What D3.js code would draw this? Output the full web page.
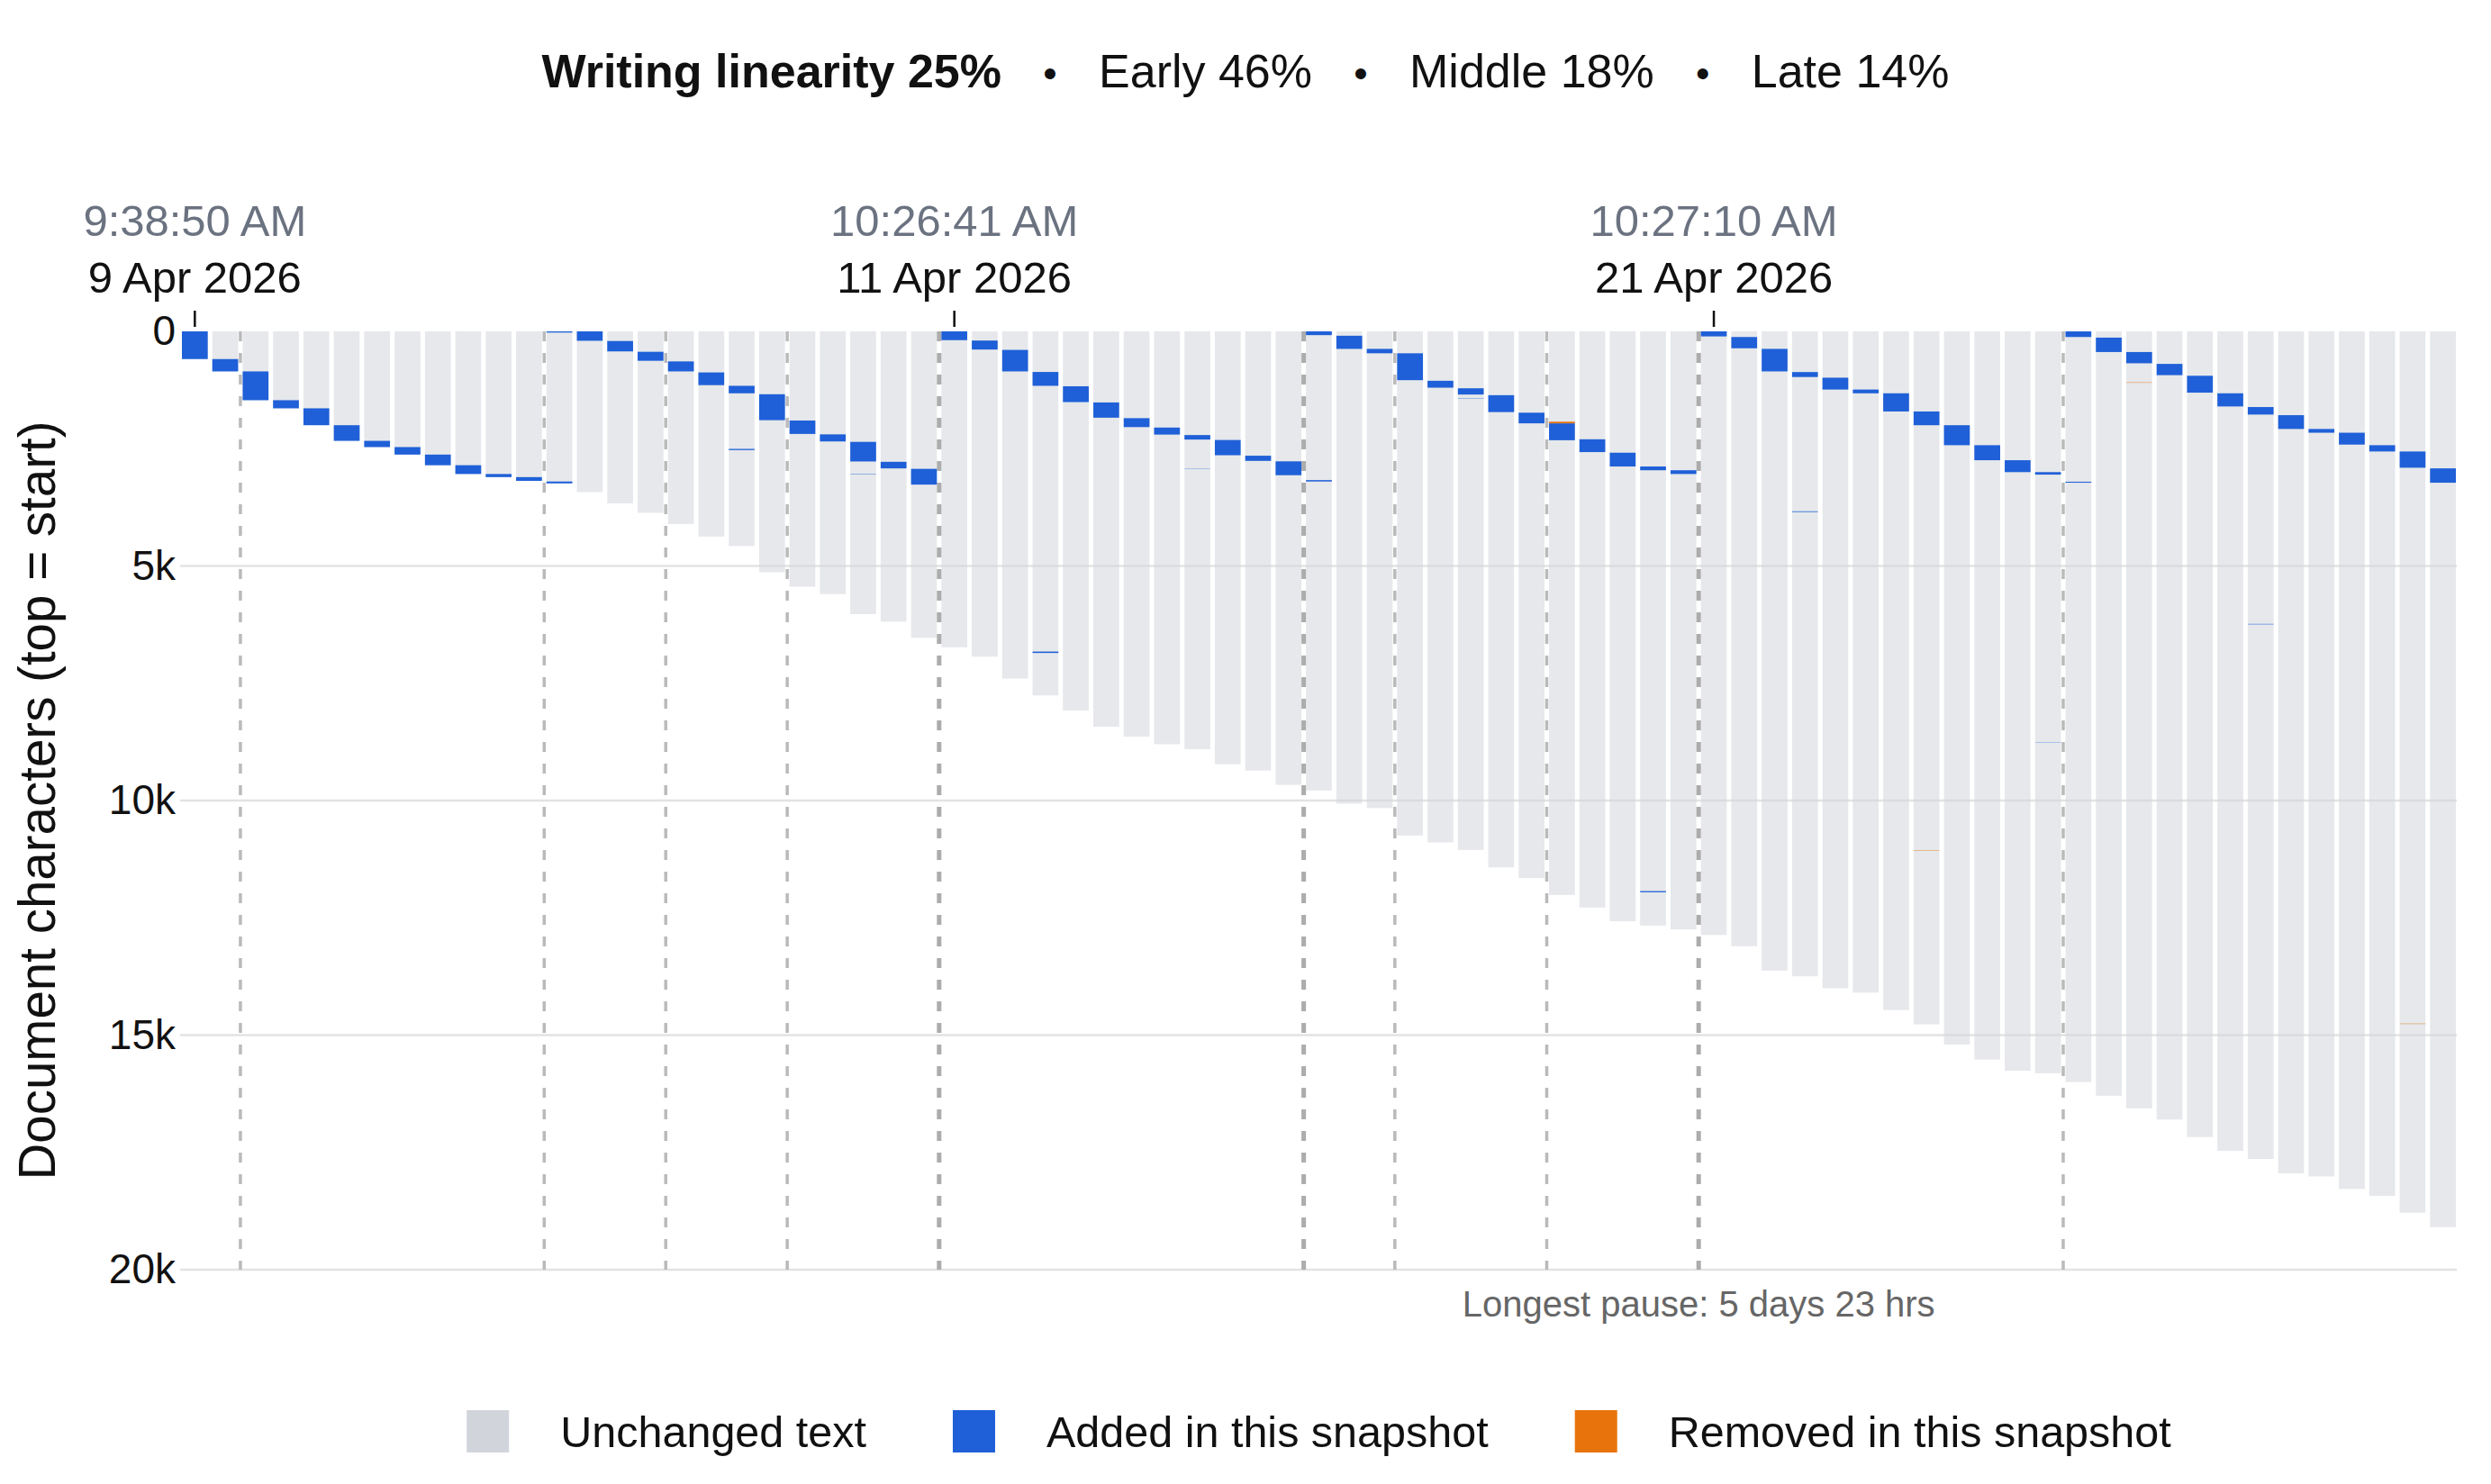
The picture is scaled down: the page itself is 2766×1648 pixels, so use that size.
<!DOCTYPE html>
<html>
<head>
<meta charset="utf-8">
<script src="https://cdn.jsdelivr.net/npm/d3@7"></script>
<style>
  body { margin: 0; background: #fff; }
  svg text { font-family: "Liberation Sans", Arial, Helvetica, sans-serif; }
</style>
</head>
<body>
<div id="linearity-chart"></div>
<script>
/* document length (characters) at each snapshot */
var docTotals = [
  590, 853, 1467, 1640, 2000, 2333, 2466, 2626, 2853, 3040, 3106, 3186, 3240,
  3426, 3666, 3866, 4106, 4373, 4573, 5133, 5440, 5600, 6026, 6186, 6533,
  6733, 6933, 7400, 7760, 8080, 8426, 8640, 8800, 8906, 9226, 9360, 9666,
  9786, 10066, 10160, 10746, 10893, 11053, 11426, 11653, 12013, 12280, 12573,
  12666, 12746, 12866, 13106, 13626, 13746, 14000, 14093, 14466, 14773, 15200,
  15520, 15760, 15813, 16000, 16293, 16560, 16800, 17173, 17466, 17640, 17946,
  18013, 18280, 18426, 18786, 19093
]

/* [snapshot, from char, to char] */
var addedSpans = [
  [0, 0, 590], [1, 590, 853], [2, 853, 1467], [3, 1467, 1640], [4, 1640, 2000],
  [5, 2000, 2333], [6, 2333, 2466], [7, 2466, 2626], [8, 2626, 2853],
  [9, 2853, 3040], [10, 3040, 3106], [11, 3106, 3186], [12, 0, 25], [12, 3200, 3240],
  [13, 0, 200], [14, 205, 427], [15, 435, 627], [16, 640, 853], [17, 875, 1146],
  [18, 1160, 1320], [18, 2505, 2530], [19, 1340, 1893], [20, 1900, 2186],
  [21, 2195, 2346], [22, 2355, 2773], [22, 3035, 3043], [23, 2780, 2920],
  [24, 2930, 3266], [25, 0, 187], [26, 195, 387], [27, 395, 853], [28, 865, 1160],
  [28, 6825, 6855], [29, 1170, 1507], [30, 1515, 1840], [31, 1850, 2040],
  [32, 2050, 2200], [33, 2210, 2306], [33, 2930, 2935], [34, 2315, 2640],
  [35, 2650, 2760], [36, 2770, 3066], [37, 0, 80], [37, 3170, 3200],
  [38, 93, 373], [39, 373, 467], [40, 467, 1040], [41, 1053, 1200],
  [42, 1213, 1346], [42, 1420, 1427], [43, 1360, 1720], [44, 1733, 1960],
  [45, 1960, 2320], [46, 2300, 2573], [47, 2586, 2880], [48, 2880, 2960],
  [48, 11930, 11955], [49, 2960, 3040], [50, 0, 107], [51, 120, 360],
  [52, 373, 853], [53, 867, 973], [53, 3835, 3850], [54, 987, 1240],
  [55, 1240, 1320], [56, 1320, 1707], [57, 1707, 2000], [58, 2000, 2426],
  [59, 2426, 2746], [60, 2746, 3000], [61, 3000, 3053], [61, 8755, 8759],
  [62, 0, 120], [62, 3205, 3225], [63, 133, 440], [64, 440, 680], [65, 693, 933],
  [66, 946, 1306], [67, 1320, 1600], [68, 1613, 1773], [68, 6235, 6245],
  [69, 1786, 2080], [70, 2080, 2160], [71, 2160, 2413], [72, 2426, 2560],
  [73, 2560, 2906], [74, 2920, 3226]
]

var removedSpans = [
  [45, 1925, 1960], [57, 11060, 11068], [64, 1088, 1096], [73, 14755, 14763]
]

/* first snapshot of each new writing session */
var sessionStarts = [2, 12, 16, 20, 25, 37, 40, 45, 50, 62]
var dayBreaks = [25, 37, 50]

var tickBars = [0, 25, 50]
var tickTimes = ["9:38:50 AM", "10:26:41 AM", "10:27:10 AM"]
var tickDates = ["9 Apr 2026", "11 Apr 2026", "21 Apr 2026"]
var yTicks = [0, 5000, 10000, 15000, 20000]

var pauseBar = 50
var pauseLabel = "Longest pause: 5 days 23 hrs"

var headlineBold = "Writing linearity 25%"
var headlineParts = ["Early 46%", "Middle 18%", "Late 14%"]
var legendLabels = ["Unchanged text", "Added in this snapshot", "Removed in this snapshot"]

var colors = {
  unchanged: "#d1d5db",
  added: "#1f60d8",
  removed: "#e8730c"
}

/* layout */
var width = 2766
    height = 1648
    plot = { left: 202, right: 2727, top: 368, bottom: 1410 }

var svg = d3.select("#linearity-chart")
  .append("svg")
  .attr("width", width)
  .attr("height", height)

var x = d3.scaleBand()
  .domain(d3.range(docTotals.length))
  .range([plot.left, plot.right])
  .paddingInner(0.15)
  .paddingOuter(0)

var y = d3.scaleLinear()
  .domain([0, 20000])
  .range([plot.top, plot.bottom])

function gapX(i) {
  return x(i) - x.step() * x.paddingInner() / 2
}

/* grid */
svg.append("g")
  .attr("class", "grid")
  .selectAll("line")
  .data(yTicks.filter(function(d) { return d > 0 }))
  .enter()
  .append("line")
  .attr("x1", plot.left - 2)
  .attr("x2", plot.right + 1)
  .attr("y1", function(d) { return y(d) })
  .attr("y2", function(d) { return y(d) })
  .attr("stroke", "#e3e3e3")
  .attr("stroke-width", 2.5)

/* unchanged text bars */
svg.append("g")
  .attr("class", "doc-bars")
  .selectAll("rect")
  .data(docTotals)
  .enter()
  .append("rect")
  .attr("x", function(d, i) { return x(i) })
  .attr("y", y(0))
  .attr("width", x.bandwidth())
  .attr("height", function(d) { return y(d) - y(0) })
  .attr("fill", colors.unchanged)
  .attr("opacity", 0.55)

/* session separators */
svg.append("g")
  .attr("class", "sessions")
  .selectAll("line")
  .data(sessionStarts)
  .enter()
  .append("line")
  .attr("x1", gapX)
  .attr("x2", gapX)
  .attr("y1", plot.top)
  .attr("y2", plot.bottom)
  .attr("stroke", function(d) { return dayBreaks.indexOf(d) >= 0 ? "#acacac" : "#bababa" })
  .attr("stroke-width", function(d) { return dayBreaks.indexOf(d) >= 0 ? 5 : 3.5 })
  .attr("stroke-dasharray", "11,13")

function spanRects(cls, spans, fill) {
  svg.append("g")
    .attr("class", cls)
    .selectAll("rect")
    .data(spans)
    .enter()
    .append("rect")
    .attr("x", function(d) { return x(d[0]) })
    .attr("y", function(d) { return y(d[1]) })
    .attr("width", x.bandwidth())
    .attr("height", function(d) { return Math.max(y(d[2]) - y(d[1]), 0.3) })
    .attr("fill", fill)
}

spanRects("added", addedSpans, colors.added)
spanRects("removed", removedSpans, colors.removed)

/* y axis */
var yAxis = svg.append("g")
  .attr("class", "y-axis")
  .attr("transform", "translate(" + plot.left + ",0)")
  .call(d3.axisLeft(y)
    .tickValues(yTicks)
    .tickSize(0)
    .tickPadding(7)
    .tickFormat(function(d) { return d === 0 ? "0" : (d / 1000) + "k" }))

yAxis.select(".domain").remove()
yAxis.selectAll("text")
  .attr("font-size", 46)
  .attr("fill", "#111")
  .style("font-family", "'Liberation Sans', Arial, sans-serif")

svg.append("text")
  .attr("transform", "translate(61," + ((plot.top + plot.bottom) / 2) + ") rotate(-90)")
  .attr("text-anchor", "middle")
  .attr("font-size", 56.5)
  .attr("fill", "#111")
  .text("Document characters (top = start)")

/* top time axis */
var topAxis = svg.append("g")
  .attr("class", "time-axis")
  .attr("transform", "translate(0," + (plot.top - 5) + ")")
  .call(d3.axisTop(x)
    .tickValues(tickBars)
    .tickSize(18)
    .tickFormat(""))

topAxis.select(".domain").remove()
topAxis.selectAll(".tick line")
  .attr("stroke", "#111")
  .attr("stroke-width", 2.5)

svg.append("g")
  .selectAll("text")
  .data(tickBars)
  .enter()
  .append("text")
  .attr("x", function(d) { return x(d) + x.bandwidth() / 2 })
  .attr("y", 262)
  .attr("text-anchor", "middle")
  .attr("font-size", 49)
  .attr("fill", "#6b7280")
  .text(function(d, i) { return tickTimes[i] })

svg.append("g")
  .selectAll("text")
  .data(tickBars)
  .enter()
  .append("text")
  .attr("x", function(d) { return x(d) + x.bandwidth() / 2 })
  .attr("y", 325)
  .attr("text-anchor", "middle")
  .attr("font-size", 49)
  .attr("fill", "#111")
  .text(function(d, i) { return tickDates[i] })

/* longest pause note */
svg.append("text")
  .attr("x", gapX(pauseBar))
  .attr("y", 1462)
  .attr("text-anchor", "middle")
  .attr("font-size", 40)
  .attr("fill", "#666")
  .text(pauseLabel)

/* headline */
var headline = svg.append("g").attr("class", "headline")
    pieces = [headlineBold].concat(headlineParts)
    headGap = 108
    cursor = 0
    headTexts = []

pieces.forEach(function(p, i) {
  var t = headline.append("text")
    .attr("y", 97)
    .attr("font-size", 52)
    .attr("font-weight", i === 0 ? "bold" : "normal")
    .attr("fill", "#111")
    .text(p)
  headTexts.push(t)
})
headTexts.forEach(function(t, i) {
  var w = t.node().getComputedTextLength()
  t.attr("x", cursor)
  if (i < headTexts.length - 1) {
    headline.append("text")
      .attr("x", cursor + w + headGap / 2)
      .attr("y", 97)
      .attr("text-anchor", "middle")
      .attr("font-size", 44)
      .attr("fill", "#111")
      .text("\u2022")
  }
  cursor += w + headGap
})
cursor -= headGap
headline.attr("transform", "translate(" + (width / 2 - cursor / 2) + ",0)")

/* legend */
var legend = svg.append("g").attr("class", "legend")
    legendColors = [colors.unchanged, colors.added, colors.removed]
    legendGap = 96
    lx = 0

legendLabels.forEach(function(label, i) {
  legend.append("rect")
    .attr("x", lx)
    .attr("y", 1566)
    .attr("width", 47)
    .attr("height", 47)
    .attr("fill", legendColors[i])
  var t = legend.append("text")
    .attr("x", lx + 104)
    .attr("y", 1607)
    .attr("font-size", 48.5)
    .attr("fill", "#111")
    .text(label)
  lx += 104 + t.node().getComputedTextLength() + legendGap
})
lx -= legendGap
legend.attr("transform", "translate(" + ((plot.left + plot.right) / 2 - lx / 2) + ",0)")
</script>
</body>
</html>
